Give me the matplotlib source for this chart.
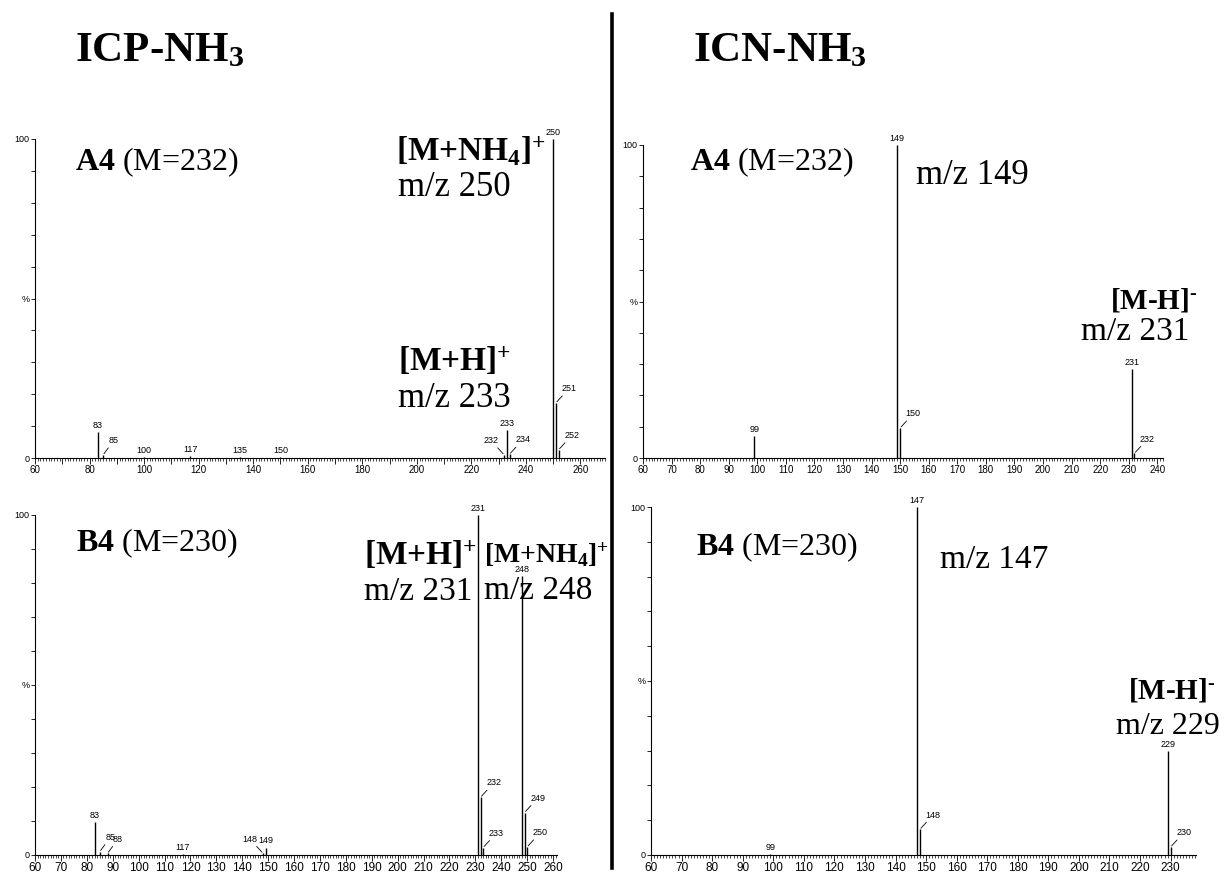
import matplotlib
matplotlib.use("Agg")
import matplotlib.pyplot as plt
from matplotlib.lines import Line2D
from matplotlib.ticker import MultipleLocator, FixedLocator, FuncFormatter
from matplotlib import font_manager
from matplotlib.ft2font import FT2Font

W, H = 1226, 876

# ---- data (m/z, relative intensity %) ----
icp_a4_mz = [83, 85, 100, 117, 135, 150, 232, 233, 234, 250, 251, 252]
icp_a4_int = [8.2, 1.0, 0.4, 0.5, 0.3, 0.3, 1.0, 8.8, 1.2, 100, 17.3, 2.6]

icn_a4_mz = [99, 149, 150, 231, 232]
icn_a4_int = [6.9, 100, 9.6, 28.5, 1.5]

icp_b4_mz = [83, 85, 88, 117, 148, 149, 231, 232, 233, 248, 249, 250]
icp_b4_int = [9.6, 1.0, 0.5, 0.4, 0.5, 2.2, 100, 17.0, 2.2, 82, 12.5, 2.4]

icn_b4_mz = [99, 147, 148, 229, 230]
icn_b4_int = [0.4, 100, 7.4, 30.0, 2.3]

# label placement: 'u' = straight above, 'r' = up-right with leader, 'l' = up-left with leader
icp_a4_lab = ['u', 'r', 'u', 'u', 'u', 'u', 'l', 'u', 'r', 'u', 'r', 'r']
icn_a4_lab = ['u', 'u', 'r', 'u', 'r']
icp_b4_lab = ['u', 'r', 'r', 'u', 'l', 'u', 'u', 'r', 'r', 'u', 'r', 'r']
icn_b4_lab = ['u', 'u', 'r', 'u', 'r']

serif = "Liberation Serif"
names = {f.name for f in font_manager.fontManager.ttflist}
sans = "Liberation Sans Narrow" if "Liberation Sans Narrow" in names else "Liberation Sans"

# short hyphen for the negative-ion charge
ft = FT2Font(font_manager.findfont(font_manager.FontProperties(family=serif, weight='bold')))
neg = '\u2010' if ft.get_char_index(0x2010) else '\u2013'

plt.rcParams['mathtext.fontset'] = 'custom'
plt.rcParams['mathtext.rm'] = serif
plt.rcParams['mathtext.it'] = serif + ':italic'
plt.rcParams['mathtext.bf'] = serif + ':bold'

fig = plt.figure(figsize=(W / 100, H / 100), dpi=100)


def box(x0, y_top, x1, y_bot):
    return [x0 / W, 1 - y_bot / H, (x1 - x0) / W, (y_bot - y_top) / H]


def px(x, y):
    return x / W, 1 - y / H


def spectrum(rect, mz, inten, labs, xmax, label_step, lab_size):
    ax = fig.add_axes(rect)
    ax.vlines(mz, 0, inten, color='black', lw=1.0)
    ax.set_xlim(60, xmax)
    ax.set_ylim(0, 100)
    for s in ['top', 'right']:
        ax.spines[s].set_visible(False)
    for s in ['left', 'bottom']:
        ax.spines[s].set_linewidth(0.8)
    ax.xaxis.set_major_locator(MultipleLocator(10))
    ax.xaxis.set_minor_locator(MultipleLocator(1))
    ax.xaxis.set_major_formatter(FuncFormatter(
        lambda v, p: '%d' % v if round(v) % label_step == 0 else ''))
    ax.tick_params(axis='x', which='major', length=4, width=0.6, pad=1,
                   labelsize=lab_size, direction='out')
    ax.tick_params(axis='x', which='minor', length=2, width=0.5, direction='out')
    ax.yaxis.set_major_locator(FixedLocator(range(0, 101, 10)))
    ax.yaxis.set_major_formatter(FuncFormatter(
        lambda v, p: {0: '0', 50: '%', 100: '100'}.get(int(round(v)), '')))
    ax.tick_params(axis='y', length=3, width=0.6, pad=1, labelsize=6.5)
    for t in ax.get_xticklabels() + ax.get_yticklabels():
        t.set_fontfamily(sans)
    for m, v, l in zip(mz, inten, labs):
        if l == 'u':
            ax.annotate(str(m), xy=(m, v), xytext=(0, 1.5), textcoords='offset points',
                        ha='center', va='bottom', fontsize=6.5, family=sans)
        else:
            dx = 4 if l == 'r' else -4
            ax.annotate(str(m), xy=(m, v), xytext=(dx, 7), textcoords='offset points',
                        ha='left' if l == 'r' else 'right', va='bottom',
                        fontsize=6.5, family=sans,
                        arrowprops=dict(arrowstyle='-', lw=0.6, color='black',
                                        shrinkA=0, shrinkB=1))
    return ax


spectrum(box(35, 139, 605, 458), icp_a4_mz, icp_a4_int, icp_a4_lab, 269, 20, 7)
spectrum(box(643, 145, 1163, 458), icn_a4_mz, icn_a4_int, icn_a4_lab, 242, 10, 7)
spectrum(box(35, 515, 557, 855), icp_b4_mz, icp_b4_int, icp_b4_lab, 261.5, 10, 8.5)
spectrum(box(651, 507, 1196, 855), icn_b4_mz, icn_b4_int, icn_b4_lab, 238.3, 10, 8.5)

# divider between the two columns
fig.add_artist(Line2D([612 / W, 612 / W], [1 - 14 / H, 1 - 868 / H],
                      color='black', lw=2.6))


def t(x, y, s, size, bold=False):
    fig.text(*px(x, y), s, fontsize=size, family=serif,
             fontweight='bold' if bold else 'normal', ha='left', va='center')


# column titles
t(75, 51, r'ICP-NH$_\mathbf{3}$', 31, True)
t(693, 51, r'ICN-NH$_\mathbf{3}$', 31, True)

# compound names
t(75, 162, r'$\mathbf{A4}$ (M=232)', 23)
t(690, 162, r'$\mathbf{A4}$ (M=232)', 23)
t(76, 543, r'$\mathbf{B4}$ (M=230)', 23)
t(696, 547, r'$\mathbf{B4}$ (M=230)', 23)

# ion annotations
minus = r'$^\mathbf{' + neg + '}$'
t(396, 152, r'[M+NH$_\mathbf{4}$]$^\mathbf{+}$', 24, True)
t(398, 187, 'm/z 250', 25)
t(398, 362, r'[M+H]$^\mathbf{+}$', 24, True)
t(398, 399, 'm/z 233', 25)

t(916, 176, 'm/z 149', 25)
t(1110, 300, '[M-H]' + minus, 21, True)
t(1081, 332, 'm/z 231', 24)

t(364, 556, r'[M+H]$^\mathbf{+}$', 24, True)
t(364, 592, 'm/z 231', 24)
t(484, 555, r'[M+NH$_\mathbf{4}$]$^\mathbf{+}$', 20, True)
t(484, 591, 'm/z 248', 24)

t(940, 560, 'm/z 147', 24)
t(1128, 690, '[M-H]' + minus, 21, True)
t(1116, 726, 'm/z 229', 23)

fig.savefig("out.png", dpi=100)
